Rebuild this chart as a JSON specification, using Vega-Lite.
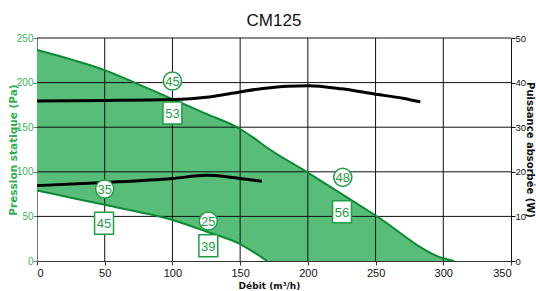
{
  "$schema": "https://vega.github.io/schema/vega-lite/v6.json",
  "width": 474,
  "height": 223,
  "autosize": "none",
  "padding": {"left": 37, "top": 38, "right": 25, "bottom": 30},
  "background": "white",
  "title": {"text": "CM125", "fontSize": 17, "font": "Liberation Sans", "fontWeight": "normal", "color": "#111111", "offset": 3},
  "config": {"view": {"stroke": null}, "font": "Liberation Sans"},
  "datasets": {
    "env": [
      {"x": 0, "hi": 236.5, "lo": 79},
      {"x": 25, "hi": 226, "lo": 71},
      {"x": 50, "hi": 214, "lo": 63},
      {"x": 75, "hi": 198, "lo": 55},
      {"x": 100, "hi": 181.5, "lo": 46},
      {"x": 125, "hi": 165, "lo": 33},
      {"x": 150, "hi": 148, "lo": 19},
      {"x": 160, "hi": 138, "lo": 10},
      {"x": 170, "hi": 127, "lo": 0},
      {"x": 200, "hi": 99, "lo": 0},
      {"x": 250, "hi": 51, "lo": 0},
      {"x": 300, "hi": 3, "lo": 0},
      {"x": 308, "hi": 0, "lo": 0}
    ],
    "low": [
      {"x": 0, "p": 79},
      {"x": 25, "p": 71},
      {"x": 50, "p": 63},
      {"x": 75, "p": 55},
      {"x": 100, "p": 46},
      {"x": 125, "p": 33},
      {"x": 150, "p": 19},
      {"x": 160, "p": 10},
      {"x": 170, "p": 0}
    ],
    "gx": [{"v": 50}, {"v": 100}, {"v": 150}, {"v": 200}, {"v": 250}, {"v": 300}],
    "gy": [{"v": 50}, {"v": 100}, {"v": 150}, {"v": 200}, {"v": 250}],
    "pw": [
      {"s": "a", "x": 0, "w": 35.9},
      {"s": "a", "x": 50, "w": 36.0},
      {"s": "a", "x": 100, "w": 36.2},
      {"s": "a", "x": 125, "w": 36.7},
      {"s": "a", "x": 142, "w": 37.5},
      {"s": "a", "x": 167, "w": 38.7},
      {"s": "a", "x": 185, "w": 39.2},
      {"s": "a", "x": 200, "w": 39.3},
      {"s": "a", "x": 225, "w": 38.6},
      {"s": "a", "x": 250, "w": 37.4},
      {"s": "a", "x": 270, "w": 36.5},
      {"s": "a", "x": 283, "w": 35.7},
      {"s": "b", "x": 0, "w": 16.9},
      {"s": "b", "x": 50, "w": 17.6},
      {"s": "b", "x": 100, "w": 18.5},
      {"s": "b", "x": 125, "w": 19.2},
      {"s": "b", "x": 140, "w": 18.9},
      {"s": "b", "x": 150, "w": 18.5},
      {"s": "b", "x": 166, "w": 17.9}
    ],
    "lab": [
      {"x": 100, "p": 201.8, "t": "45", "k": "c"},
      {"x": 100, "p": 165.9, "t": "53", "k": "s"},
      {"x": 50, "p": 80.7, "t": "35", "k": "c"},
      {"x": 49.5, "p": 42.3, "t": "45", "k": "s"},
      {"x": 126.5, "p": 44.8, "t": "25", "k": "c"},
      {"x": 126.5, "p": 17.2, "t": "39", "k": "s"},
      {"x": 225.8, "p": 93.8, "t": "48", "k": "c"},
      {"x": 225.2, "p": 55.3, "t": "56", "k": "s"}
    ]
  },
  "resolve": {"scale": {"y": "independent"}},
  "layer": [
    {
      "layer": [
        {
          "data": {"name": "env"},
          "mark": {"type": "area", "color": "#58bd78", "opacity": 1, "interpolate": "monotone"},
          "encoding": {
            "x": {"field": "x", "type": "quantitative", "scale": {"domain": [0, 350], "nice": false},
              "axis": {"values": [0, 50, 100, 150, 200, 250, 300, 350], "grid": false, "labelFontSize": 11, "labelColor": "#111111", "labelFont": "Liberation Sans", "labelPadding": 2, "tickSize": 4, "tickColor": "#333333", "domainColor": "#333333", "title": "Débit (m³/h)", "titleFont": "DejaVu Sans", "titleFontSize": 9, "titleFontWeight": "bold", "titleColor": "#111111", "titlePadding": 3, "titleX": 232}},
            "y": {"field": "hi", "type": "quantitative", "scale": {"domain": [0, 250], "nice": false},
              "axis": {"orient": "left", "values": [0, 50, 100, 150, 200, 250], "grid": false, "labelFontSize": 10, "labelFont": "Liberation Sans", "labelColor": "#3cb55c", "labelPadding": 0, "tickSize": 4, "tickColor": "#777777", "domainColor": "#777777", "title": "Pression statique (Pa)", "titleFont": "DejaVu Sans", "titleFontSize": 10.5, "titleFontWeight": "bold", "titleColor": "#2fae50", "titleX": -19}},
            "y2": {"field": "lo"}
          }
        },
        {
          "data": {"name": "gx"},
          "mark": {"type": "rule", "color": "#111111", "strokeWidth": 1},
          "encoding": {"x": {"field": "v", "type": "quantitative"}}
        },
        {
          "data": {"name": "gy"},
          "mark": {"type": "rule", "color": "#111111", "strokeWidth": 1},
          "encoding": {"y": {"field": "v", "type": "quantitative"}}
        },
        {
          "data": {"name": "env"},
          "mark": {"type": "line", "color": "#0b8a34", "strokeWidth": 2, "interpolate": "monotone"},
          "encoding": {
            "x": {"field": "x", "type": "quantitative"},
            "y": {"field": "hi", "type": "quantitative"}
          }
        },
        {
          "data": {"name": "low"},
          "mark": {"type": "line", "color": "#0b8a34", "strokeWidth": 2, "interpolate": "monotone"},
          "encoding": {
            "x": {"field": "x", "type": "quantitative"},
            "y": {"field": "p", "type": "quantitative"}
          }
        }
      ]
    },
    {
      "data": {"name": "pw"},
      "mark": {"type": "line", "color": "#000000", "strokeWidth": 3, "interpolate": "monotone"},
      "encoding": {
        "x": {"field": "x", "type": "quantitative"},
        "y": {"field": "w", "type": "quantitative", "scale": {"domain": [0, 50], "nice": false},
          "axis": {"orient": "right", "values": [0, 10, 20, 30, 40, 50], "grid": false, "labelFontSize": 9.5, "labelFont": "Liberation Sans", "labelColor": "#111111", "labelPadding": 0, "tickSize": 4, "tickColor": "#111111", "domainColor": "#111111", "title": "Puissance absorbée (W)", "titleFont": "DejaVu Sans", "titleFontSize": 10, "titleFontWeight": "bold", "titleColor": "#111111", "titleX": 13, "titleBaseline": "bottom"}},
        "detail": {"field": "s"}
      }
    },
    {
      "data": {"name": "lab"},
      "layer": [
        {
          "transform": [{"filter": "datum.k == 'c'"}],
          "mark": {"type": "point", "shape": "circle", "filled": false, "fill": "white", "fillOpacity": 1, "stroke": "#1f9e44", "strokeWidth": 1.5, "size": 330, "opacity": 1},
          "encoding": {
            "x": {"field": "x", "type": "quantitative"},
            "y": {"field": "p", "type": "quantitative", "scale": {"domain": [0, 250], "nice": false}, "axis": null}
          }
        },
        {
          "transform": [{"filter": "datum.k == 's'"}],
          "mark": {"type": "point", "shape": "M-0.86,-1H0.86V1H-0.86Z", "filled": false, "fill": "white", "fillOpacity": 1, "stroke": "#1f9e44", "strokeWidth": 1.5, "size": 484, "opacity": 1},
          "encoding": {
            "x": {"field": "x", "type": "quantitative"},
            "y": {"field": "p", "type": "quantitative"}
          }
        },
        {
          "mark": {"type": "text", "color": "#1f9e44", "fontSize": 13, "font": "Liberation Sans", "align": "center", "baseline": "middle", "dy": 1},
          "encoding": {
            "x": {"field": "x", "type": "quantitative"},
            "y": {"field": "p", "type": "quantitative"},
            "text": {"field": "t"}
          }
        }
      ]
    }
  ]
}
